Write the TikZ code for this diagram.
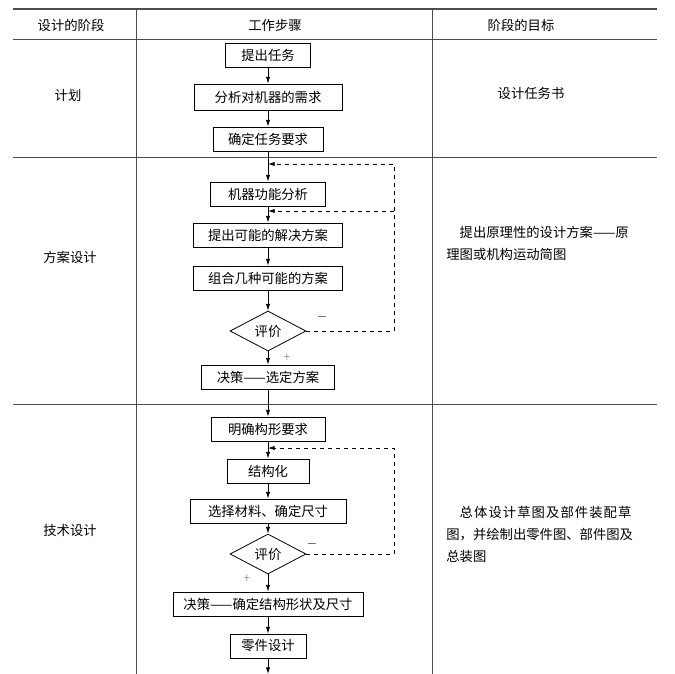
\documentclass[tikz,border=0pt]{standalone}
\usepackage{fontspec}
\setmainfont{Noto Sans CJK SC}
\usetikzlibrary{shapes.geometric,arrows.meta}
\begin{document}
\begin{tikzpicture}[x=0.75pt,y=-0.75pt,
            font=\fontsize{10}{12}\selectfont,
            line width=0.6pt,
            stepbox/.style={draw,minimum height=18pt,inner sep=0pt},
            judge/.style={draw,diamond,minimum width=57pt,minimum height=30pt,inner sep=0pt},
            grid/.style={draw=black!70,line width=0.5pt},
            goal/.style={anchor=north west,align=left,inner sep=0pt,font=\fontsize{10}{16.5}\selectfont},
            >={Latex[length=5pt,width=3.2pt]},
        ]
    \useasboundingbox (0,0) rectangle (675,674);
    % table rules
    \draw[grid,line width=0.9pt] (13,9) -- (657,9);
    \draw[grid] (13,39) -- (657,39);
    \draw[grid] (13,157) -- (657,157);
    \draw[grid] (13,404) -- (657,404);
    \draw[grid] (136,9) -- (136,674);
    \draw[grid] (432,9) -- (432,674);

    \node (h1) at (71,25) {设计的阶段};
    \node (h2) at (275,25) {工作步骤};
    \node (h3) at (521,25) {阶段的目标};

    \node (p1) at (68,95) {计划};
    \node (p2) at (70,257) {方案设计};
    \node (p3) at (70,530) {技术设计};

    \node (g1) at (531,93) {设计任务书};
    \node[goal] (g2) at (446,226) {\hspace*{1em}提出原理性的设计方案——原\\理图或机构运动简图};
    \node[goal] (g3) at (446,506) {\hspace*{1em}{\addfontfeature{LetterSpace=8}总体设计草图及部件装配草}\\图，并绘制出零件图、部件图及\\总装图};

    % planning
    \node[stepbox,minimum width=63.75pt] (t1) at (268,55) {提出任务};
    \node[stepbox,minimum width=111pt,minimum height=19.5pt] (t2) at (268,97) {分析对机器的需求};
    \draw[->] (t1.south) -- (t2.north);
    \node[stepbox,minimum width=82.5pt] (t3) at (268,139) {确定任务要求};
    \draw[->] (t2.south) -- (t3.north);

    % concept
    \node[stepbox,minimum width=86.25pt] (s1) at (268,194) {机器功能分析};
    \draw[->] (t3.south) -- (s1.north);
    \node[stepbox,minimum width=111.75pt] (s2) at (268,235) {提出可能的解决方案};
    \draw[->] (s1.south) -- (s2.north);
    \node[stepbox,minimum width=111.75pt] (s3) at (268,278) {组合几种可能的方案};
    \draw[->] (s2.south) -- (s3.north);
    \node[judge] (d1) at (268,331) {评价};
    \draw[->] (s3.south) -- (d1.north);
    \node[stepbox,minimum width=99.75pt] (s4) at (268,377) {决策——选定方案};
    \draw[->] (d1.south) -- (s4.north);
    \coordinate (c1) at (394,164);
    \coordinate (c2) at (394,211);
    \coordinate (m1) at (268,164);
    \coordinate (m2) at (268,211);
    \draw[dashed,->] (d1.east) -| (c1) -- (m1);
    \draw[dashed,->] (c2) -- (m2);
    \node (n1) at (322,317) {$-$};
    \node[text=black!40,font=\small] (q1) at (287,358) {+};

    % detail
    \node[stepbox,minimum width=85.5pt] (j1) at (268,429) {明确构形要求};
    \draw[->] (s4.south) -- (j1.north);
    \node[stepbox,minimum width=61.5pt] (j2) at (268,471) {结构化};
    \draw[->] (j1.south) -- (j2.north);
    \node[stepbox,minimum width=117pt] (j3) at (268,511) {选择材料、确定尺寸};
    \draw[->] (j2.south) -- (j3.north);
    \node[judge] (d2) at (268,554) {评价};
    \draw[->] (j3.south) -- (d2.north);
    \node[stepbox,minimum width=142.5pt] (j4) at (268,604) {决策——确定结构形状及尺寸};
    \draw[->] (d2.south) -- (j4.north);
    \node[stepbox,minimum width=57pt] (j5) at (268,646) {零件设计};
    \draw[->] (j4.south) -- (j5.north);
    \coordinate (c3) at (394,448);
    \coordinate (m3) at (268,448);
    \draw[dashed,->] (d2.east) -| (c3) -- (m3);
    \node (n2) at (312,544) {$-$};
    \node[text=black!40,font=\small] (q2) at (247,579) {+};
    \coordinate (e1) at (268,674);
    \draw[->] (j5.south) -- (e1);
\end{tikzpicture}
\end{document}
